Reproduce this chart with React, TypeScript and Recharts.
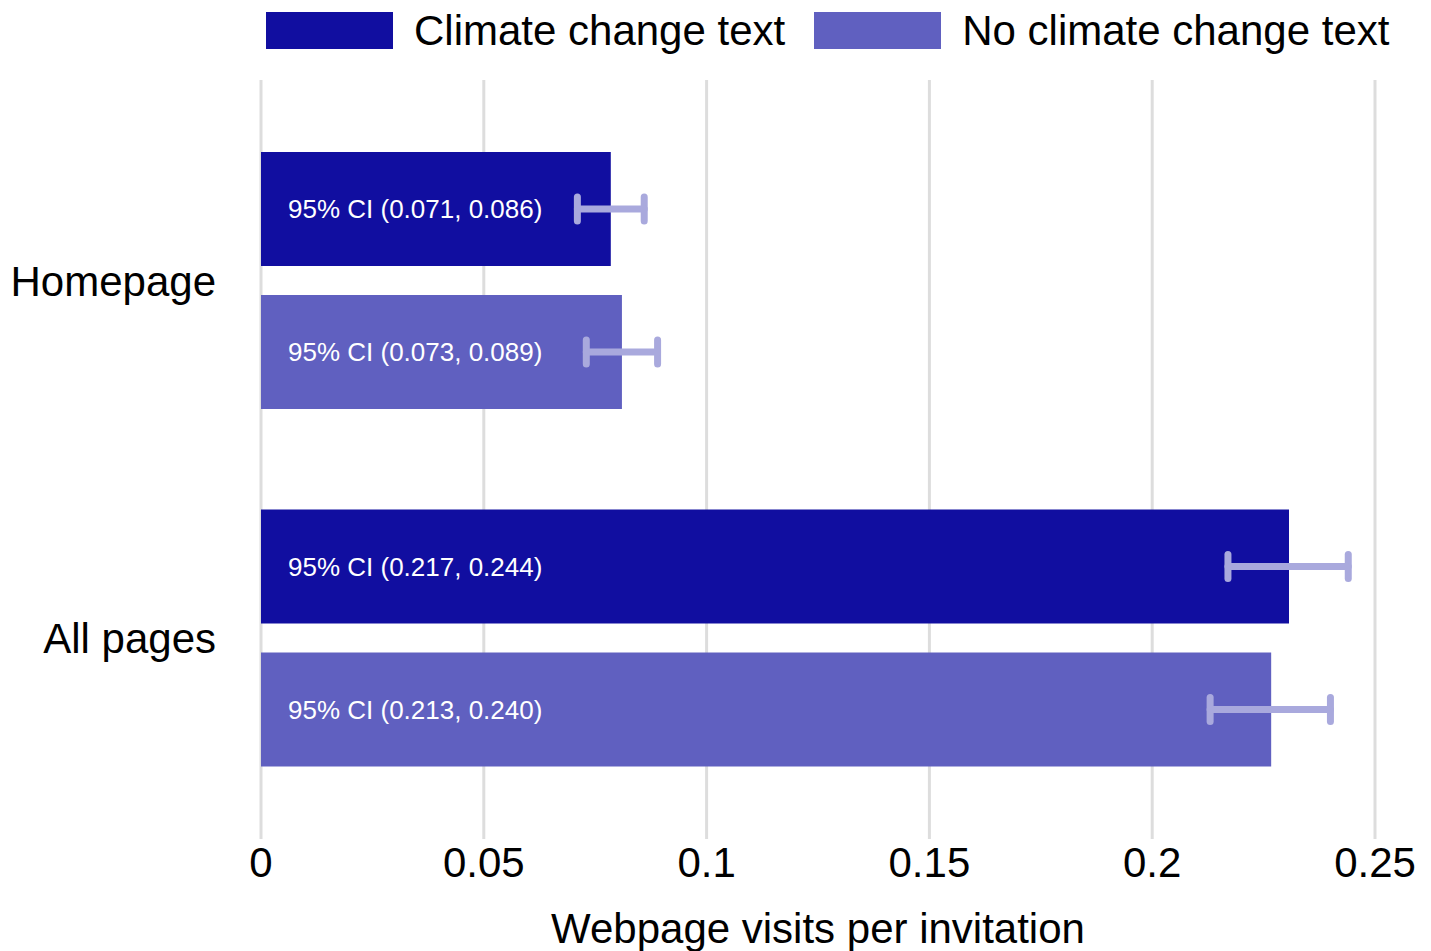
import React from 'react'
import {
  BarChart,
  Bar,
  XAxis,
  YAxis,
  CartesianGrid,
  Legend,
  ErrorBar,
  LabelList,
  Label,
} from 'recharts'

const categories = ['Homepage', 'All pages']
const climateValues = [0.0785, 0.2307]
const noClimateValues = [0.081, 0.2267]
const climateCI = [
  [0.071, 0.086],
  [0.217, 0.244],
]
const noClimateCI = [
  [0.073, 0.089],
  [0.213, 0.24],
]
const xTicks = [0, 0.05, 0.1, 0.15, 0.2, 0.25]

const DARK = '#110ea0'
const LIGHT = '#6060c0'
const ERR = '#a9a9dd'
const FONT = '"Liberation Sans", Arial, sans-serif'

const fmtCI = (ci: number[]) => `95% CI (${ci[0].toFixed(3)}, ${ci[1].toFixed(3)})`

const data = categories.map((name, i) => ({
  name,
  climate: climateValues[i],
  noClimate: noClimateValues[i],
  climateErr: [climateValues[i] - climateCI[i][0], climateCI[i][1] - climateValues[i]],
  noClimateErr: [noClimateValues[i] - noClimateCI[i][0], noClimateCI[i][1] - noClimateValues[i]],
  climateLabel: fmtCI(climateCI[i]),
  noClimateLabel: fmtCI(noClimateCI[i]),
}))

const legendItems = [
  { label: 'Climate change text', color: DARK },
  { label: 'No climate change text', color: LIGHT },
]

function LegendContent() {
  return (
    <div style={{ display: 'flex', height: 60, alignItems: 'flex-start', paddingLeft: 266, fontFamily: FONT, whiteSpace: 'nowrap' }}>
      {legendItems.map((it) => (
        <div key={it.label} style={{ display: 'flex', alignItems: 'center', marginRight: 29, marginTop: 12 }}>
          <div style={{ width: 127, height: 37, background: it.color, marginRight: 21 }} />
          <span style={{ fontSize: 42, color: '#000', lineHeight: '37px' }}>{it.label}</span>
        </div>
      ))}
    </div>
  )
}

export default function App() {
  return (
    <div style={{ width: 1431, height: 951, background: '#fff', fontFamily: FONT }}>
      <style>{'body{margin:0}'}</style>
      <BarChart
        width={1431}
        height={951}
        data={data}
        layout="vertical"
        margin={{ top: 20, right: 56, bottom: 0, left: 0 }}
        barSize={114}
        barGap={29}
      >
        <CartesianGrid horizontal={false} stroke="#dddddd" strokeWidth={3} />
        <Legend
          verticalAlign="top"
          align="left"
          wrapperStyle={{ top: 0, left: 0, width: 1431 }}
          content={<LegendContent />}
        />
        <XAxis
          type="number"
          domain={[0, 0.25]}
          ticks={xTicks}
          tickFormatter={(v: number) => String(v)}
          axisLine={false}
          tickLine={false}
          tickSize={0}
          tickMargin={8}
          height={112}
          tick={{ fill: '#000', fontSize: 42, fontFamily: FONT }}
        >
          <Label
            value="Webpage visits per invitation"
            position="insideBottom"
            offset={8}
            style={{ fill: '#000', fontSize: 42, fontFamily: FONT }}
          />
        </XAxis>
        <YAxis
          type="category"
          dataKey="name"
          width={261}
          axisLine={false}
          tickLine={false}
          tickSize={0}
          tickMargin={45}
          padding={{ top: 22, bottom: 22 }}
          tick={{ fill: '#000', fontSize: 42, fontFamily: FONT }}
        />
        <Bar dataKey="climate" fill={DARK} isAnimationActive={false}>
          <LabelList dataKey="climateLabel" position="insideLeft" offset={27} fill="#fff" fontSize={26} fontFamily={FONT} />
          <ErrorBar dataKey="climateErr" direction="x" stroke={ERR} strokeWidth={7} width={12} strokeLinecap="round" isAnimationActive={false} />
        </Bar>
        <Bar dataKey="noClimate" fill={LIGHT} isAnimationActive={false}>
          <LabelList dataKey="noClimateLabel" position="insideLeft" offset={27} fill="#fff" fontSize={26} fontFamily={FONT} />
          <ErrorBar dataKey="noClimateErr" direction="x" stroke={ERR} strokeWidth={7} width={12} strokeLinecap="round" isAnimationActive={false} />
        </Bar>
      </BarChart>
    </div>
  )
}
